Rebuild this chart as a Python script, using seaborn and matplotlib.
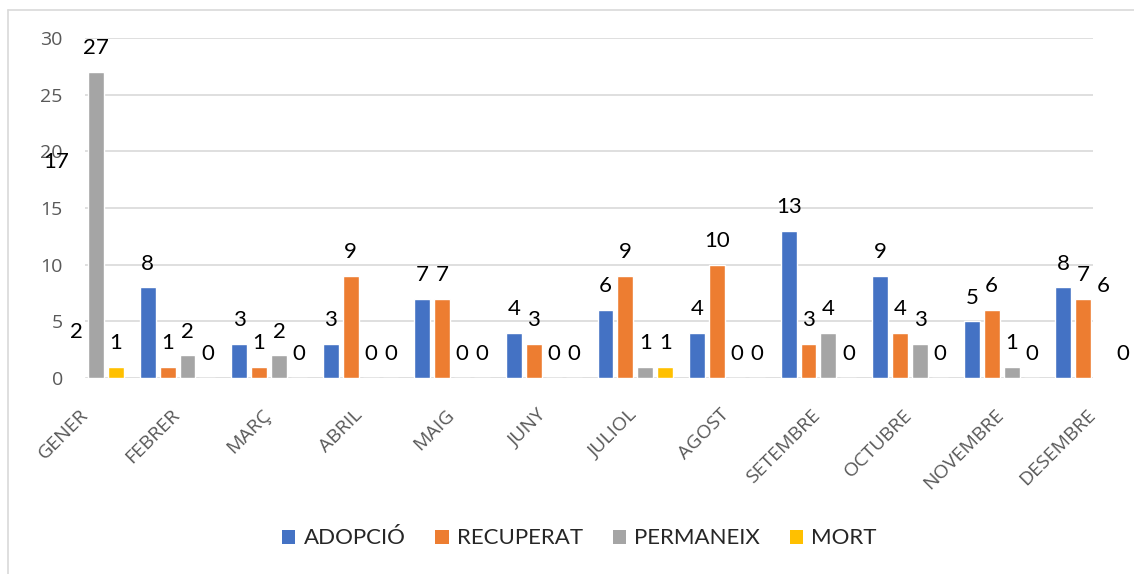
import pandas as pd
import matplotlib.pyplot as plt
import matplotlib.transforms as mtransforms
import seaborn as sns
from matplotlib.lines import Line2D
from matplotlib.patches import Patch

# Data
months = ['GENER', 'FEBRER', 'MARÇ', 'ABRIL', 'MAIG', 'JUNY', 'JULIOL',
          'AGOST', 'SETEMBRE', 'OCTUBRE', 'NOVEMBRE', 'DESEMBRE']
series = ['ADOPCIÓ', 'RECUPERAT', 'PERMANEIX', 'MORT']
adopcio = [17, 8, 3, 3, 7, 4, 6, 4, 13, 9, 5, 8]
recuperat = [2, 1, 1, 9, 7, 3, 9, 10, 3, 4, 6, 7]
permaneix = [27, 2, 2, 0, 0, 0, 1, 0, 4, 3, 1, 6]
mort = [1, 0, 0, 0, 0, 0, 1, 0, 0, 0, 0, 0]
colors = ['#4472C4', '#ED7D31', '#A5A5A5', '#FFC000']

values = {'ADOPCIÓ': adopcio, 'RECUPERAT': recuperat,
          'PERMANEIX': permaneix, 'MORT': mort}
df = pd.DataFrame([(m, s, values[s][i]) for s in series for i, m in enumerate(months)],
                  columns=['mes', 'estat', 'valor'])

sns.set_style('white')
plt.rcParams['font.family'] = ['Lato', 'DejaVu Sans']

fig = plt.figure(figsize=(11.34, 5.74), dpi=100)
ax = fig.add_axes([0.075, 0.3415, 0.889, 0.5925])

sns.barplot(data=df, x='mes', y='valor', hue='estat', order=months,
            hue_order=series, palette=colors, width=0.87, gap=0.2,
            saturation=1, ax=ax, legend=False, errorbar=None)

# value labels (also for bars cut off by the plot area)
for container, s in zip(ax.containers, series):
    for bar, v in zip(container, values[s]):
        x = bar.get_x() + bar.get_width() / 2
        ax.annotate(str(v), (x, v), xytext=(0, 17), textcoords='offset points',
                    ha='center', va='center', fontsize=16, color='#000000',
                    annotation_clip=False)

ax.set_xlim(-0.01, 11.0)
ax.set_ylim(0, 30)
ax.set_yticks(range(0, 31, 5))
ax.yaxis.grid(True, color='#D9D9D9', linewidth=1.2)
ax.set_axisbelow(True)
sns.despine(ax=ax, left=True, bottom=True, top=True, right=True)
ax.set_xlabel('')
ax.set_ylabel('')
ax.tick_params(axis='y', length=0, pad=16, labelsize=14, labelcolor='#595959')
ax.tick_params(axis='x', length=0, pad=20, labelsize=14, labelcolor='#595959')
for lab in ax.get_yticklabels():
    lab.set_fontfamily('Open Sans')
shift = mtransforms.ScaledTranslation(-7 / 100, 0, fig.dpi_scale_trans)
for lab in ax.get_xticklabels():
    lab.set_fontfamily('Open Sans')
    lab.set_rotation(45)
    lab.set_ha('right')
    lab.set_rotation_mode('anchor')
    lab.set_transform(lab.get_transform() + shift)

handles = [Patch(facecolor=c, edgecolor='none') for c in colors]
fig.legend(handles, series, loc='center', bbox_to_anchor=(0.511, 0.062),
           ncol=4, frameon=False, fontsize=16, handlelength=0.6,
           handleheight=0.6, handletextpad=0.36, columnspacing=1.35)

# chart border (top and left edges visible)
fig.add_artist(Line2D([7.5 / 1134, 1.0], [1 - 9.5 / 574] * 2,
                      transform=fig.transFigure, color='#D9D9D9', linewidth=1.2))
fig.add_artist(Line2D([7.5 / 1134] * 2, [0, 1 - 9.5 / 574],
                      transform=fig.transFigure, color='#D9D9D9', linewidth=1.2))

fig.savefig('out.png', dpi=100)
